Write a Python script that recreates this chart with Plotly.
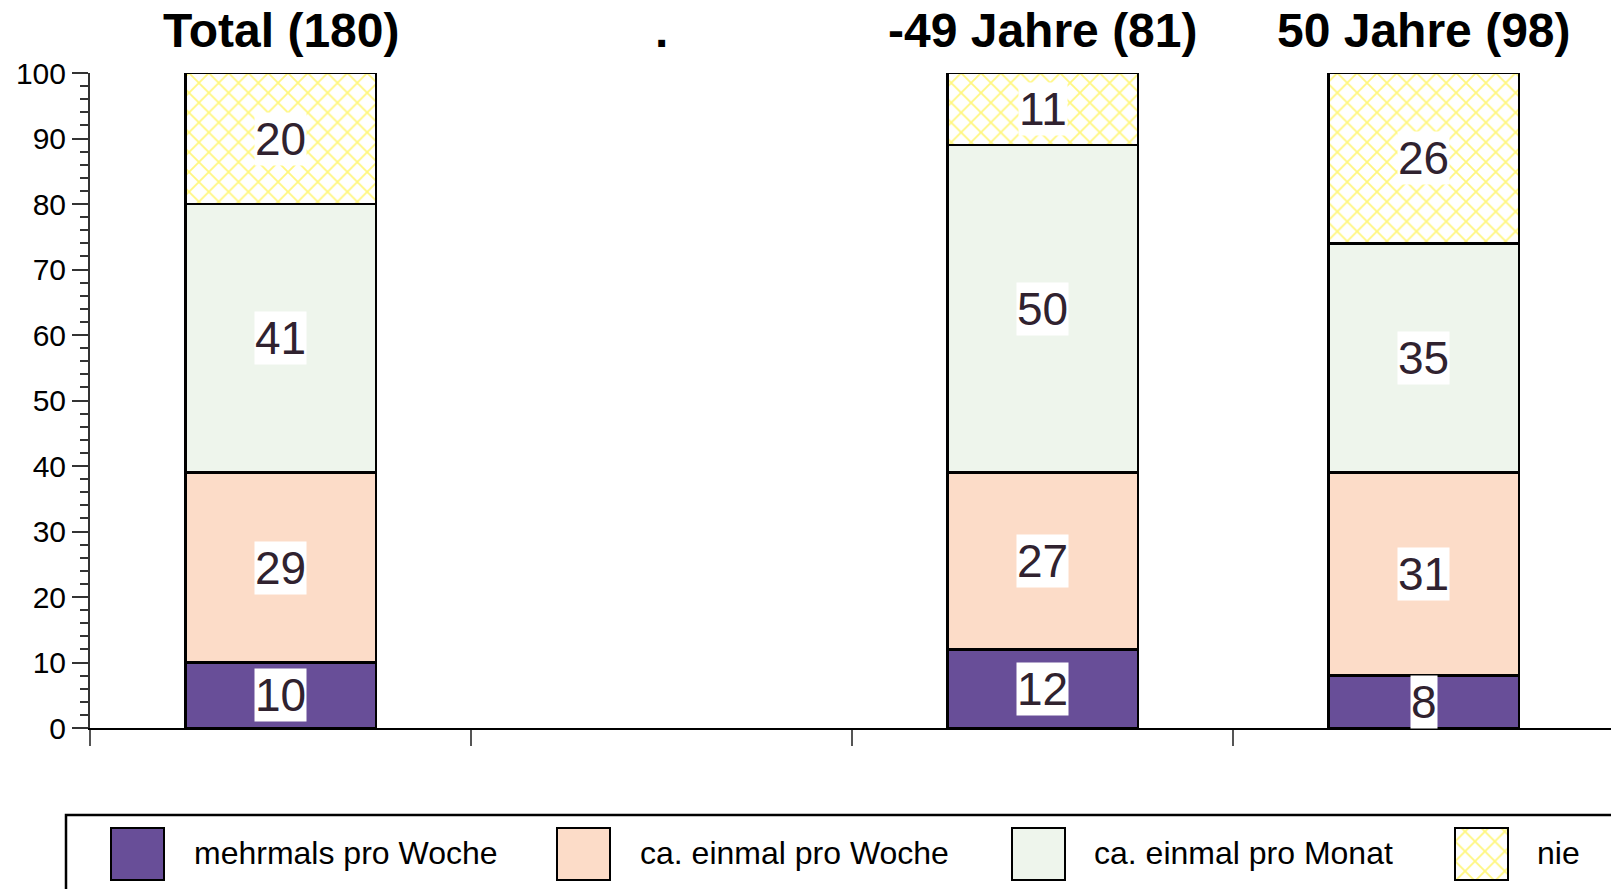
import plotly.graph_objects as go

# ---------------- data ----------------
categories = ["Total (180)", ".", "-49 Jahre (81)", "50 Jahre (98)"]
series_names = ["mehrmals pro Woche", "ca. einmal pro Woche", "ca. einmal pro Monat", "nie"]
mehrmals_pro_woche = [10, None, 12, 8]
einmal_pro_woche = [29, None, 27, 31]
einmal_pro_monat = [41, None, 50, 35]
nie = [20, None, 11, 26]
y_ticks = list(range(0, 101, 10))

series_values = [mehrmals_pro_woche, einmal_pro_woche, einmal_pro_monat, nie]

# ---------------- styles ----------------
W, H = 1611, 889
FONT = "Liberation Sans, Arial, sans-serif"
colors = ["#684e98", "#fcdcc8", "#eef5ec", "#ffffff"]
YELLOW = "#ffee00"
hatch = dict(shape="x", fgcolor=YELLOW, bgcolor="#ffffff", size=14, solidity=0.24)
no_pattern = dict(shape="")
LABEL_COLOR = "#30222f"

# plot area in pixels
PL, PR, PT, PB = 90, W, 73, 728
cat_w = 381

fig = go.Figure()

for name, vals, col in zip(series_names, series_values, colors):
    fig.add_trace(go.Bar(
        x=categories, y=vals, name=name, width=0.5,
        marker=dict(color=col, line=dict(color="black", width=2.5),
                    pattern=hatch if name == "nie" else no_pattern),
        showlegend=False, hoverinfo="skip",
    ))

annotations = []
# segment labels
for ci, cat in enumerate(categories):
    cum = 0
    for vals in series_values:
        v = vals[ci]
        if v is None:
            continue
        annotations.append(dict(
            x=cat, y=cum + v / 2, xref="x", yref="y", text=str(v), showarrow=False,
            font=dict(family=FONT, size=46, color=LABEL_COLOR),
            bgcolor="white", borderpad=0, xanchor="center", yanchor="middle",
        ))
        cum += v

# category titles on top
for cat in categories:
    annotations.append(dict(
        x=cat, y=1 - 31 / H, xref="x", yref="paper", text=cat, showarrow=False,
        font=dict(family=FONT, size=48, color="black", weight="bold"),
        xanchor="center", yanchor="middle",
    ))

# custom legend
legend_swatch_x = [111, 557, 1012, 1455]
legend_text_x = [192, 638, 1092, 1535]
sw_w, sw_top, sw_bot = 53, 828, 880
for name, tx in zip(series_names, legend_text_x):
    annotations.append(dict(
        x=tx / W, y=1 - 853 / H, xref="paper", yref="paper", text=name, showarrow=False,
        font=dict(family=FONT, size=32, color="black"),
        xanchor="left", yanchor="middle",
    ))

# legend swatches (solid)
fig.add_trace(go.Bar(
    x=[sx + sw_w / 2 for sx in legend_swatch_x[:3]], y=[sw_bot - sw_top] * 3, width=sw_w,
    xaxis="x2", yaxis="y2",
    marker=dict(color=colors[:3], line=dict(color="black", width=2.5)),
    showlegend=False, hoverinfo="skip",
))
# legend swatch (hatched)
fig.add_trace(go.Bar(
    x=[legend_swatch_x[3] + sw_w / 2], y=[sw_bot - sw_top], width=sw_w,
    xaxis="x2", yaxis="y2",
    marker=dict(color="#ffffff", line=dict(color="black", width=2.5), pattern=hatch),
    showlegend=False, hoverinfo="skip",
))

shapes = [dict(type="rect", xref="paper", yref="paper",
               x0=66 / W, x1=1.02, y0=1 - 815 / H, y1=-0.05,
               line=dict(color="black", width=2.5), fillcolor="rgba(0,0,0,0)", layer="below")]

fig.update_layout(
    width=W, height=H,
    margin=dict(l=0, r=0, t=0, b=0),
    paper_bgcolor="white", plot_bgcolor="rgba(0,0,0,0)",
    barmode="stack",
    annotations=annotations, shapes=shapes,
    xaxis=dict(
        type="category", domain=[PL / W, 1], range=[-0.5, -0.5 + (PR - PL) / cat_w],
        tickson="boundaries", ticks="outside", ticklen=16, tickwidth=2, tickcolor="#555",
        showticklabels=False, showline=True, linecolor="black", linewidth=2,
        showgrid=False, zeroline=False, fixedrange=True, automargin=False,
    ),
    yaxis=dict(
        domain=[1 - PB / H, 1 - PT / H], range=[0, 100],
        tickvals=y_ticks, ticks="outside", ticklen=16, tickwidth=2, tickcolor="#333",
        minor=dict(dtick=2, ticks="outside", ticklen=8, tickwidth=2, tickcolor="#333", showgrid=False),
        tickfont=dict(family=FONT, size=30, color="black"), ticklabelstandoff=0,
        showline=True, linecolor="#333", linewidth=2,
        showgrid=False, zeroline=False, fixedrange=True, automargin=False,
    ),
    xaxis2=dict(domain=[0, 1], range=[0, W], visible=False, anchor="y2", fixedrange=True),
    yaxis2=dict(domain=[0, 1], range=[-(H - sw_bot), sw_bot], visible=False, anchor="x2", fixedrange=True),
)

fig.write_html(
    "out.html",
    config={"displayModeBar": False},
    post_script="document.body.style.margin='0px';document.body.style.overflow='hidden';",
)
